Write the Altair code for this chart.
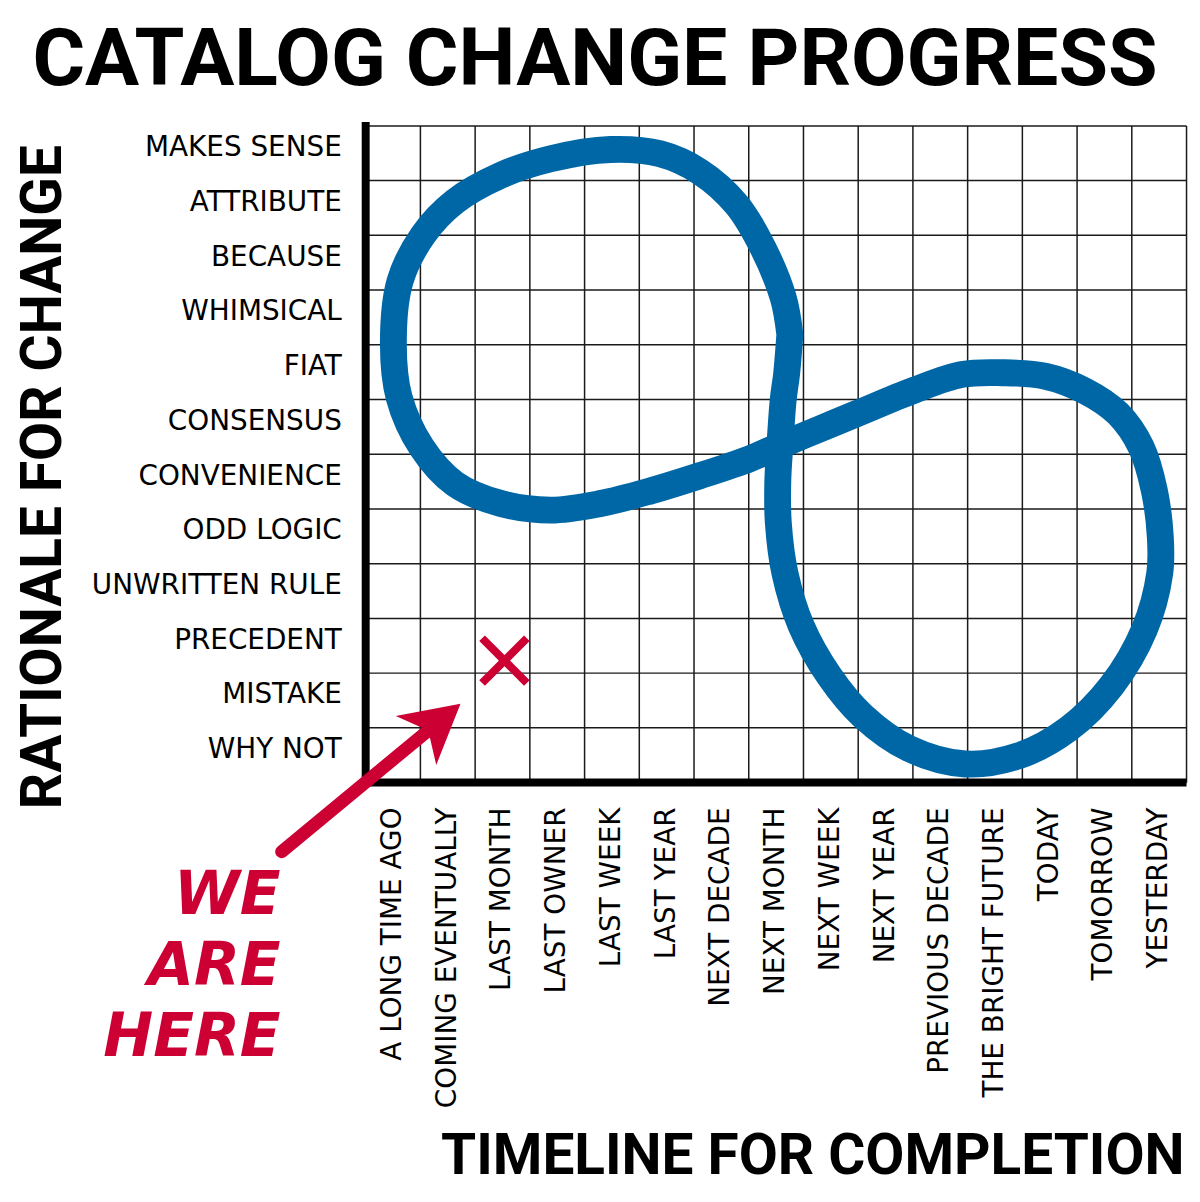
import json
import altair as alt
import pandas as pd

# ---------------- data ----------------
TITLE = "CATALOG CHANGE PROGRESS"
X_TITLE = "TIMELINE FOR COMPLETION"
Y_TITLE = "RATIONALE FOR CHANGE"

X_LABELS = ["A LONG TIME AGO", "COMING EVENTUALLY", "LAST MONTH", "LAST OWNER",
            "LAST WEEK", "LAST YEAR", "NEXT DECADE", "NEXT MONTH", "NEXT WEEK",
            "NEXT YEAR", "PREVIOUS DECADE", "THE BRIGHT FUTURE", "TODAY",
            "TOMORROW", "YESTERDAY"]
Y_LABELS = ["MAKES SENSE", "ATTRIBUTE", "BECAUSE", "WHIMSICAL", "FIAT",
            "CONSENSUS", "CONVENIENCE", "ODD LOGIC", "UNWRITTEN RULE",
            "PRECEDENT", "MISTAKE", "WHY NOT"]

# figure-eight path, in grid units (x: columns from left, y: rows from bottom)
CURVE_X = [7.76, 7.70, 7.64, 7.58, 7.54, 7.55, 7.67, 7.97, 8.48, 9.09, 9.94,
           10.97, 11.94, 12.85, 13.64, 14.24, 14.52, 14.53, 14.42, 14.18,
           13.76, 13.15, 12.42, 11.64, 10.91, 10.00, 9.00, 8.30, 7.58, 7.03,
           6.12, 5.21, 4.30, 3.39, 2.48, 1.64, 1.03, 0.62, 0.515, 0.636, 1.06,
           1.64, 2.48, 3.39, 4.48, 5.39, 6.12, 6.79, 7.27, 7.64, 7.76]
CURVE_Y = [8.18, 7.45, 7.00, 6.18, 5.50, 4.73, 3.82, 2.85, 1.94, 1.21, 0.61,
           0.33, 0.48, 0.97, 1.76, 2.79, 3.82, 4.48, 5.33, 6.12,
           6.73, 7.15, 7.42, 7.48, 7.45, 7.15, 6.74, 6.45, 6.15, 5.91,
           5.60, 5.32, 5.09, 4.97, 5.09, 5.45, 6.12, 7.03, 8.00, 9.15, 10.00,
           10.61, 11.09, 11.39, 11.56, 11.48, 11.15, 10.55, 9.76, 8.85, 8.18]

MARK_X = [2.545]
MARK_Y = [2.22]

ARROW_TAIL_X = [-1.527]
ARROW_TAIL_Y = [-1.273]
ARROW_HEAD_X = [1.335]
ARROW_HEAD_Y = [1.095]
ARROW_ANGLE = [50.4]

NOTE_LINES = ["WE", "ARE", "HERE"]
NOTE_X = [-1.545, -1.545, -1.545]
NOTE_Y = [-2.418, -3.709, -5.000]

# ---------------- styles ----------------
BLUE = "#0067a6"
RED = "#cc0033"
BIG_FONT = "Roboto"
LABEL_FONT = "DejaVu Sans"
GRID = "#1a1a1a"

n_x = len(X_LABELS)
n_y = len(Y_LABELS)

xscale = alt.Scale(domain=[0, n_x], nice=False, zero=False)
yscale = alt.Scale(domain=[0, n_y], nice=False, zero=False)

x_axis = alt.Axis(
    values=list(range(n_x + 1)),
    labelExpr=f"datum.value < {n_x} ? {json.dumps(X_LABELS)}[datum.value] : ''",
    labelAngle=270, labelAlign="right", labelBaseline="middle",
    labelOffset=27.5, labelPadding=25, labelFont=LABEL_FONT, labelFontSize=28,
    labelColor="black", labelFlush=False,
    labelOverlap=False, labelLimit=500, labelBound=False,
    ticks=False, grid=True, gridColor=GRID, gridWidth=1.5, gridOpacity=1,
    domain=True, domainColor="black", domainWidth=8, domainOpacity=1,
    title=X_TITLE, titleFont=BIG_FONT, titleFontSize=57,
    titleFontWeight="bold", titleColor="black", titleAlign="right",
    titleBaseline="alphabetic", titleX=823, titleY=393, titleLimit=1200,
)
y_axis = alt.Axis(
    values=list(range(n_y + 1)),
    labelExpr=f"datum.value < {n_y} ? {json.dumps(Y_LABELS)}[{n_y - 1} - datum.value] : ''",
    labelAlign="right", labelBaseline="middle",
    labelOffset=-32.5, labelPadding=24, labelFont=LABEL_FONT, labelFontSize=28,
    labelColor="black", labelFlush=False,
    labelOverlap=False, labelLimit=500, labelBound=False,
    ticks=False, grid=True, gridColor=GRID, gridWidth=1.5, gridOpacity=1,
    domain=True, domainColor="black", domainWidth=8, domainOpacity=1,
    domainCap="square",
    title=Y_TITLE, titleFont=BIG_FONT, titleFontSize=57,
    titleFontWeight="bold", titleColor="black", titleAngle=270,
    titleAlign="center", titleBaseline="alphabetic",
    titleX=-306, titleY=353, titleLimit=1200,
)

curve_df = pd.DataFrame({"i": list(range(len(CURVE_X))), "x": CURVE_X, "y": CURVE_Y})
mark_df = pd.DataFrame({"x": MARK_X, "y": MARK_Y})
shaft_df = pd.DataFrame({"x": ARROW_TAIL_X, "y": ARROW_TAIL_Y,
                         "x2": ARROW_HEAD_X, "y2": ARROW_HEAD_Y})
head_df = pd.DataFrame({"x": ARROW_HEAD_X, "y": ARROW_HEAD_Y, "angle": ARROW_ANGLE})
note_df = pd.DataFrame({"x": NOTE_X, "y": NOTE_Y, "text": NOTE_LINES})
title_df = pd.DataFrame({"text": [TITLE]})

curve = alt.Chart(curve_df).mark_line(
    color=BLUE, strokeWidth=27, interpolate="catmull-rom",
    strokeCap="round", strokeJoin="round"
).encode(
    x=alt.X("x:Q", scale=xscale, axis=x_axis),
    y=alt.Y("y:Q", scale=yscale, axis=y_axis),
    order=alt.Order("i:Q"),
)

marker = alt.Chart(mark_df).mark_point(
    shape="M-1,-1L1,1M1,-1L-1,1", size=2025, filled=False,
    stroke=RED, strokeWidth=8, opacity=1, strokeCap="butt"
).encode(x="x:Q", y="y:Q")

shaft = alt.Chart(shaft_df).mark_rule(
    color=RED, strokeWidth=13, strokeCap="round"
).encode(x="x:Q", y="y:Q", x2="x2:Q", y2="y2:Q")

head = alt.Chart(head_df).mark_point(
    shape="M0,-1L1.1,1L0,0.45L-1.1,1Z", size=3364, filled=True,
    fill=RED, strokeWidth=0, opacity=1
).encode(x="x:Q", y="y:Q", angle=alt.Angle("angle:Q", scale=None))

note = alt.Chart(note_df).mark_text(
    align="right", baseline="alphabetic", font=LABEL_FONT, fontSize=60,
    fontStyle="italic", fontWeight="bold", color=RED
).encode(x="x:Q", y="y:Q", text="text:N")

# chart heading, placed in the padding band above the plot
heading = alt.Chart(title_df).mark_text(
    align="center", baseline="alphabetic", font=BIG_FONT, fontSize=81,
    fontWeight="bold", color="black"
).encode(text="text:N", x=alt.value(231), y=alt.value(-41))

chart = alt.layer(curve, marker, shaft, head, note, heading).properties(
    width=825, height=660,
    autosize=alt.AutoSizeParams(type="none"),
    padding={"left": 359, "top": 115, "right": 6, "bottom": 407},
    background="white",
).configure_view(stroke=None)

chart.save("out.html", embed_options={"renderer": "svg", "actions": False})
